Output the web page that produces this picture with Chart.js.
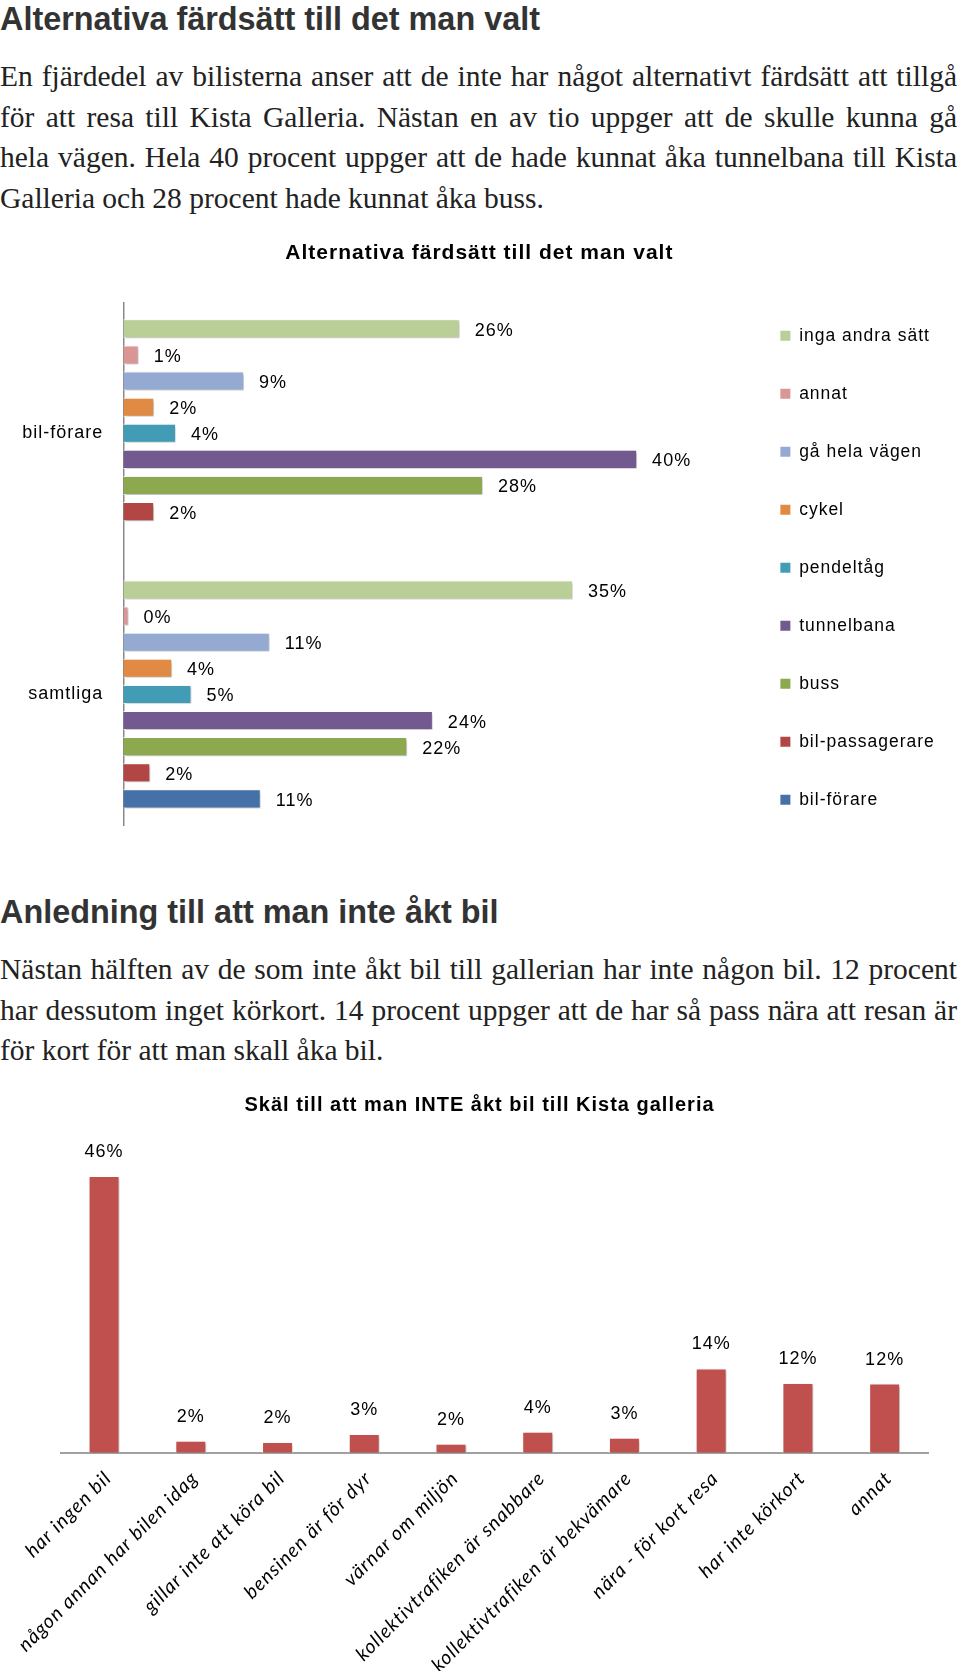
<!DOCTYPE html>
<html lang="sv">
<head>
<meta charset="utf-8">
<title>Alternativa färdsätt</title>
<script src="https://cdn.jsdelivr.net/npm/chart.js@4.4.1/dist/chart.umd.min.js"></script>
<style>
  html, body { margin: 0; padding: 0; background: #fff; }
  body { width: 960px; height: 1671px; position: relative; overflow: hidden; }
  h1, h2 {
    position: absolute; left: 0; margin: 0;
    font: bold 32.4px/36px "Liberation Sans", Arial, sans-serif;
    color: #333; white-space: nowrap;
  }
  .p {
    position: absolute; left: 0; width: 957px;
    font: 29.5px/40.5px "Liberation Serif", "Times New Roman", serif;
    color: #222;
  }
  .p div { white-space: nowrap; text-align: justify; text-align-last: justify; }
  .p div.last { text-align-last: left; }
  canvas { position: absolute; left: 0; }
</style>
</head>
<body>

<h1 style="top:1px">Alternativa färdsätt till det man valt</h1>
<div class="p" style="top:56px">
  <div>En fjärdedel av bilisterna anser att de inte har något alternativt färdsätt att tillgå</div>
  <div>för att resa till Kista Galleria. Nästan en av tio uppger att de skulle kunna gå</div>
  <div>hela vägen. Hela 40 procent uppger att de hade kunnat åka tunnelbana till Kista</div>
  <div class="last">Galleria och 28 procent hade kunnat åka buss.</div>
</div>

<canvas id="modeChart" width="960" height="629" style="top:220px"></canvas>

<h2 style="top:894px">Anledning till att man inte åkt bil</h2>
<div class="p" style="top:949px">
  <div>Nästan hälften av de som inte åkt bil till gallerian har inte någon bil. 12 procent</div>
  <div>har dessutom inget körkort. 14 procent uppger att de har så pass nära att resan är</div>
  <div class="last">för kort för att man skall åka bil.</div>
</div>

<canvas id="reasonChart" width="960" height="591" style="top:1080px"></canvas>

<script>
// DATA
const groups = ["bil-förare", "samtliga"];
const modes = ["inga andra sätt", "annat", "gå hela vägen", "cykel", "pendeltåg",
  "tunnelbana", "buss", "bil-passagerare", "bil-förare"];
const modeColors = ["#BACF97", "#D99694", "#95AAD3", "#E08A43", "#439CB6",
  "#72598F", "#8CA94F", "#B14645", "#4571A8"];
// percent per mode, one array per group (bil-förare has no bil-förare bar)
const bilForareShares = [26.2, 1.2, 9.4, 2.4, 4.1, 40, 28, 2.4, null];
const samtligaShares = [35, 0.4, 11.4, 3.8, 5.3, 24.1, 22.1, 2.1, 10.7];

const reasons = ["har ingen bil", "någon annan har bilen idag", "gillar inte att köra bil",
  "bensinen är för dyr", "värnar om miljön", "kollektivtrafiken är snabbare",
  "kollektivtrafiken är bekvämare", "nära - för kort resa", "har inte körkort", "annat"];
const reasonShares = [46, 2.0, 1.8, 3.1, 1.5, 3.5, 2.5, 14, 11.6, 11.5];

// GLOBAL LOOK
Chart.defaults.font.family = '"Liberation Sans", Arial, sans-serif';
Chart.defaults.color = "#000";
Chart.defaults.animation = false;

const pct = v => Math.round(v) + "%";

// hidden axis that still takes up room (size set with afterFit)
const spacer = () => ({
  display: true,
  grid: { display: false, drawTicks: false },
  border: { display: false },
  ticks: { display: false }
});

// PLUGINS
// pdf-ish text has a little extra tracking
const tracking = {
  id: "tracking",
  beforeLayout(chart) { chart.ctx.letterSpacing = "1px"; },
  beforeDraw(chart) { chart.ctx.letterSpacing = "1px"; }
};

// soft drop shadow under the bars
const barShadow = {
  id: "barShadow",
  beforeDatasetsDraw(chart) {
    const ctx = chart.ctx;
    ctx.save();
    ctx.shadowColor = "rgba(0,0,0,0.3)";
    ctx.shadowBlur = 3;
    ctx.shadowOffsetX = 1.5;
    ctx.shadowOffsetY = 1.5;
  },
  afterDatasetsDraw(chart) {
    chart.ctx.restore();
  }
};

// value labels next to / above each bar
const valueLabels = {
  id: "valueLabels",
  afterDatasetsDraw(chart) {
    const ctx = chart.ctx;
    const horizontal = chart.options.indexAxis === "y";
    ctx.save();
    ctx.font = "18px " + Chart.defaults.font.family;
    ctx.fillStyle = "#000";
    ctx.textBaseline = "middle";
    chart.data.datasets.forEach((ds, i) => {
      chart.getDatasetMeta(i).data.forEach((bar, j) => {
        const v = ds.data[j];
        if (v === null || v === undefined) return;
        if (horizontal) {
          ctx.textAlign = "left";
          ctx.fillText(pct(v), bar.x + 15, bar.y + 2);
        } else {
          ctx.textAlign = "center";
          ctx.fillText(pct(v), bar.x, bar.y - 24);
        }
      });
    });
    ctx.restore();
  }
};

// CHART 1: alternativa färdsätt
const modeSeries = modes.map((m, i) => ({
  label: m,
  data: [bilForareShares[i], samtligaShares[i]],
  backgroundColor: modeColors[i],
  borderColor: "#fff",
  borderWidth: 1,
  categoryPercentage: 0.9,
  barPercentage: 0.73
}));

new Chart(document.getElementById("modeChart"), {
  type: "bar",
  data: { labels: groups, datasets: modeSeries },
  options: {
    responsive: false,
    indexAxis: "y",
    layout: { padding: { left: 14, right: 15.25, top: 0, bottom: 0 } },
    scales: {
      x: {
        ...spacer(),
        min: 0,
        max: 48,
        afterFit(scale) { scale.height = 24; }
      },
      y: {
        grid: { display: false, drawTicks: true, tickLength: 20 },
        border: { display: true, color: "#8a8a8a", width: 1.5 },
        ticks: { font: { size: 18 }, color: "#000", padding: 0 },
        afterFit(scale) { scale.width = 109.3; }
      }
    },
    plugins: {
      title: {
        display: true,
        text: "Alternativa färdsätt till det man valt",
        font: { size: 21, weight: "bold" },
        color: "#000",
        padding: { top: 20.7, bottom: 36.8 }
      },
      legend: {
        position: "right",
        align: "end",
        labels: {
          font: { size: 17.5 },
          color: "#000",
          boxWidth: 10,
          boxHeight: 10,
          padding: 40.5,
          generateLabels(chart) {
            return Chart.defaults.plugins.legend.labels.generateLabels(chart)
              .map(item => ({ ...item, lineWidth: 0, strokeStyle: item.fillStyle }));
          }
        }
      },
      tooltip: { enabled: false }
    }
  },
  plugins: [tracking, barShadow, valueLabels]
});

// CHART 2: skäl till att man inte åkt bil
new Chart(document.getElementById("reasonChart"), {
  type: "bar",
  data: {
    labels: reasons,
    datasets: [{
      label: "Skäl",
      data: reasonShares,
      backgroundColor: "#C0504D",
      borderColor: "#fff",
      borderWidth: 1,
      categoryPercentage: 0.8,
      barPercentage: 0.446
    }]
  },
  options: {
    responsive: false,
    layout: { padding: { left: 31, right: 32, top: 0, bottom: 0 } },
    scales: {
      y: {
        ...spacer(),
        min: 0,
        max: 52,
        afterFit(scale) { scale.width = 29.7; }
      },
      x: {
        grid: { display: false, drawTicks: false },
        border: { display: true, color: "#a0a0a0", width: 2 },
        ticks: {
          font: { size: 19.5, style: "italic", family: "Lato, 'Open Sans', sans-serif" },
          color: "#000",
          autoSkip: false,
          minRotation: 45,
          maxRotation: 45,
          padding: 14,
          labelOffset: 4
        },
        afterFit(scale) { scale.height = 218.3; }
      }
    },
    plugins: {
      title: {
        display: true,
        text: "Skäl till att man INTE åkt bil till Kista galleria",
        font: { size: 20, weight: "bold" },
        color: "#000",
        padding: { top: 13.2, bottom: 22.8 }
      },
      legend: { display: false },
      tooltip: { enabled: false }
    }
  },
  plugins: [tracking, barShadow, valueLabels]
});
</script>
</body>
</html>
